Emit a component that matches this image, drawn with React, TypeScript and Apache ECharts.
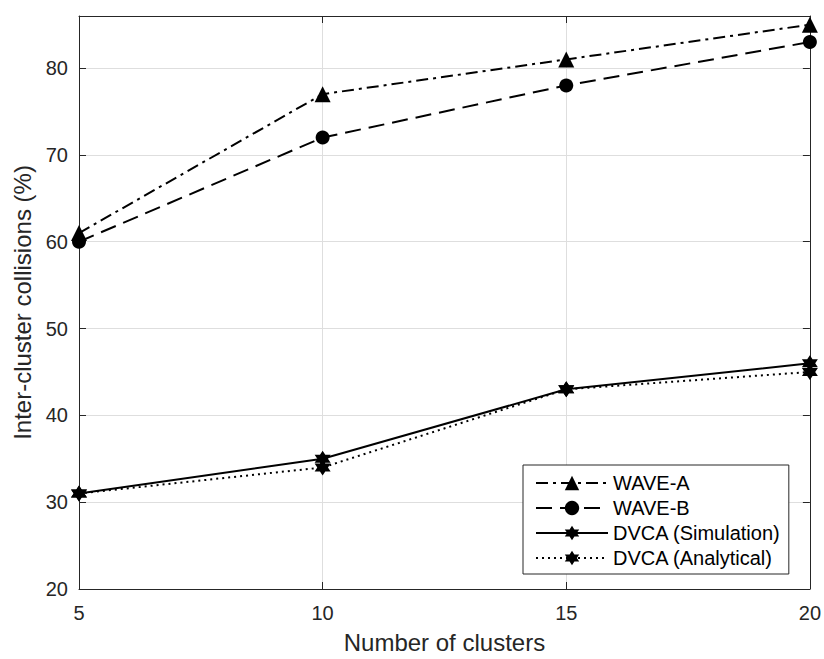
import React, { useEffect, useRef } from "react";
import * as echarts from "echarts";

const clusters = [5, 10, 15, 20];
const waveA = [61, 77, 81, 85];
const waveB = [60, 72, 78, 83];
const dvcaSim = [31, 35, 43, 46];
const dvcaAna = [31, 34, 43, 45];
const seriesNames = ["WAVE-A", "WAVE-B", "DVCA (Simulation)", "DVCA (Analytical)"];

const hexagram =
  "path://M50 0 L64.43 25 L93.3 25 L78.87 50 L93.3 75 L64.43 75 L50 100 L35.57 75 L6.7 75 L21.13 50 L6.7 25 L35.57 25 Z";

export default function App() {
  const ref = useRef<HTMLDivElement>(null);
  useEffect(() => {
    const chart = echarts.init(ref.current!, null, { renderer: "svg" });
    const font = "Liberation Sans, Arial, sans-serif";
    const mk = (vals: number[]) => clusters.map((c, i) => [c, vals[i]]);
    const axisCommon = {
      axisLine: { show: true, onZero: false, lineStyle: { color: "#262626", width: 1 } },
      axisTick: { show: true, inside: true, length: 7, lineStyle: { color: "#262626" } },
    };
    chart.setOption({
      animation: false,
      backgroundColor: "#fff",
      textStyle: { fontFamily: font },
      grid: { left: 79, top: 16, right: 14, bottom: 64, containLabel: false },
      xAxis: [
        {
          type: "value",
          min: 5,
          max: 20,
          interval: 5,
          name: "Number of clusters",
          nameLocation: "middle",
          nameGap: 41,
          nameTextStyle: { fontSize: 24, color: "#262626", fontFamily: font },
          axisLabel: { fontSize: 20, color: "#262626", margin: 14, fontFamily: font },
          splitLine: { show: true, lineStyle: { color: "#dedede", width: 1 } },
          ...axisCommon,
        },
        {
          type: "value",
          position: "top",
          min: 5,
          max: 20,
          interval: 5,
          axisLabel: { show: false },
          splitLine: { show: false },
          ...axisCommon,
        },
      ],
      yAxis: [
        {
          type: "value",
          min: 20,
          max: 86,
          interval: 10,
          name: "Inter-cluster collisions (%)",
          nameLocation: "middle",
          nameGap: 43,
          nameTextStyle: { fontSize: 24, color: "#262626", fontFamily: font },
          axisLabel: {
            fontSize: 20,
            color: "#262626",
            margin: 11,
            fontFamily: font,
            formatter: (v: number) => (v % 10 === 0 ? String(v) : ""),
          },
          splitLine: { show: true, lineStyle: { color: "#dedede", width: 1 } },
          ...axisCommon,
        },
        {
          type: "value",
          position: "right",
          min: 20,
          max: 86,
          interval: 10,
          axisLabel: { show: false },
          splitLine: { show: false },
          ...axisCommon,
        },
      ],
      legend: {
        orient: "vertical",
        left: 523,
        top: 465,
        itemWidth: 72,
        itemHeight: 18,
        itemGap: 5,
        padding: [8, 8, 6, 12],
        borderColor: "#262626",
        borderWidth: 1,
        backgroundColor: "#fff",
        textStyle: { fontSize: 20, color: "#000", fontFamily: font },
        data: seriesNames,
      },
      series: [
        {
          name: seriesNames[0],
          type: "line",
          data: mk(waveA),
          symbol: "triangle",
          symbolSize: 16,
          itemStyle: { color: "#000" },
          lineStyle: { color: "#000", width: 2, type: [12, 5, 3, 5] },
          z: 5,
        },
        {
          name: seriesNames[1],
          type: "line",
          data: mk(waveB),
          symbol: "circle",
          symbolSize: 14,
          itemStyle: { color: "#000" },
          lineStyle: { color: "#000", width: 2, type: [16, 8] },
          z: 5,
        },
        {
          name: seriesNames[2],
          type: "line",
          data: mk(dvcaSim),
          symbol: hexagram,
          symbolSize: 16,
          itemStyle: { color: "#000" },
          lineStyle: { color: "#000", width: 2, type: "solid" },
          z: 5,
        },
        {
          name: seriesNames[3],
          type: "line",
          data: mk(dvcaAna),
          symbol: hexagram,
          symbolSize: 16,
          itemStyle: { color: "#000" },
          lineStyle: { color: "#000", width: 2, type: [2, 4] },
          z: 5,
        },
      ],
    });
    return () => chart.dispose();
  }, []);
  return (
    <div
      ref={ref}
      style={{ position: "absolute", left: 0, top: 0, width: 824, height: 659 }}
    />
  );
}
